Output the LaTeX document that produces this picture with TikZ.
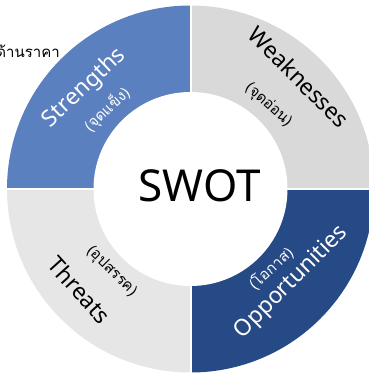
\documentclass[tikz,border=0pt]{standalone}
\usepackage{fontspec}
\usetikzlibrary{calc}
\setmainfont{Noto Sans}
\newfontfamily\thaifont[Script=Thai]{Loma}
\definecolor{strblue}{HTML}{5B80BF}
\definecolor{oppblue}{HTML}{264A85}
\definecolor{weakgray}{HTML}{D9D9D9}
\definecolor{thrgray}{HTML}{E6E6E6}
\begin{document}
\begin{tikzpicture}[x=1pt,y=1pt,
  mainlabel/.style={inner sep=0pt,font=\fontsize{22.8}{23}\selectfont},
  sublabel/.style={inner sep=0pt,font=\thaifont\fontsize{15}{15}\selectfont},
  gapline/.style={white,line width=2pt}]
\useasboundingbox (0,0) rectangle (368,374);
\coordinate (C) at (190.5,185);
\def\Ro{183.5}
\def\Ri{97}
% four ring quadrants
\fill[weakgray] (C) -- ++(0:\Ro) arc[start angle=0,end angle=90,radius=\Ro] -- cycle;
\fill[strblue] (C) -- ++(90:\Ro) arc[start angle=90,end angle=180,radius=\Ro] -- cycle;
\fill[thrgray] (C) -- ++(180:\Ro) arc[start angle=180,end angle=270,radius=\Ro] -- cycle;
\fill[oppblue] (C) -- ++(270:\Ro) arc[start angle=270,end angle=360,radius=\Ro] -- cycle;
% separating gaps
\coordinate (gt) at ($(C)+(0,\Ro+2)$);
\coordinate (gb) at ($(C)+(0,-\Ro-2)$);
\coordinate (gl) at ($(C)+(-\Ro-2,0)$);
\coordinate (gr) at ($(C)+(\Ro+2,0)$);
\draw[gapline] (gt) -- (gb);
\draw[gapline] (gl) -- (gr);
% centre disc
\fill[white] (C) circle[radius=\Ri];
\node[inner sep=0pt,font=\fontsize{44}{44}\selectfont] (swot) at (199.5,188) {SWOT};
% quadrant labels
\node[mainlabel,white,rotate=43.5] (s) at (84.5,286) {Strengths};
\node[sublabel,white,rotate=43] (s2) at (107,264.5) {(จุดแข็ง)};
\node[mainlabel,black,rotate=-45] (w) at (299,297) {Weaknesses};
\node[sublabel,black,rotate=-42] (w2) at (268.5,269) {(จุดอ่อน)};
\node[mainlabel,black,rotate=-48] (t) at (79.5,84) {Threats};
\node[sublabel,black,rotate=-45] (t2) at (111.5,102.5) {(อุปสรรค)};
\node[mainlabel,white,rotate=45] (o) at (291.5,91.5) {Opportunities};
\node[sublabel,white,rotate=43] (o2) at (271,105.5) {(โอกาส)};
% side note
\begin{scope}
\clip (0,0) rectangle (368,374);
\node[inner sep=0pt,anchor=base east,font=\thaifont\fontsize{15}{15}\selectfont] (note) at (60,316) {ด้านราคา};
\end{scope}
\end{tikzpicture}
\end{document}
